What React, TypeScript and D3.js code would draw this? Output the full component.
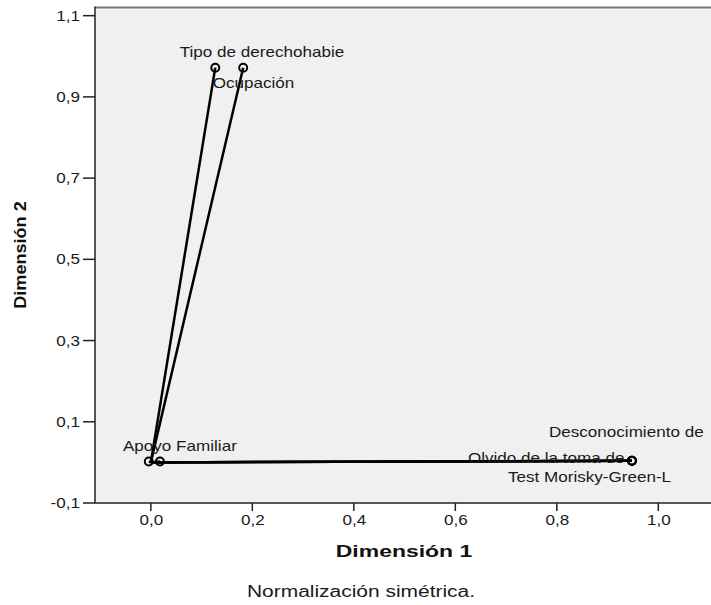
import React from "react";
import * as d3 from "d3";

const categories = [
  "Tipo de derechohabie",
  "Ocupación",
  "Apoyo Familiar",
  "",
  "Desconocimiento de",
  "Olvido de la toma de",
  "Test Morisky-Green-L",
];
const dim1 = [0.127, 0.182, 0.018, -0.004, 0.948, 0.948, 0.948];
const dim2 = [0.972, 0.972, 0.002, 0.002, 0.004, 0.004, 0.004];
const xTicks = [0, 0.2, 0.4, 0.6, 0.8, 1.0];
const yTicks = [-0.1, 0.1, 0.3, 0.5, 0.7, 0.9, 1.1];

// label layout offsets (pixels from the point)
const labelDx = [-35.5, -30.5, -37, 0, -83, -164, -124];
const labelDy = [-10.5, 20.5, -10.5, 0, -24, 2, 21.3];

const W = 711;
const H = 605;
const FONT = "'Liberation Sans', Arial, sans-serif";

function T(props: {
  x: number;
  y: number;
  anchor?: string;
  size: number;
  weight?: string;
  sx?: number;
  rot?: number;
  fill?: string;
  children: React.ReactNode;
}) {
  const { x, y, anchor = "start", size, weight = "normal", sx = 1.22, rot = 0, fill = "#1a1a1a" } = props;
  return (
    <text
      transform={`translate(${x},${y}) rotate(${rot}) scale(${sx},1)`}
      textAnchor={anchor}
      fontSize={size}
      fontWeight={weight}
      fill={fill}
    >
      {props.children}
    </text>
  );
}

export default function App() {
  const x = d3.scaleLinear().domain([-0.11, 1.12]).range([95, 95 + 1.23 * 507.5]);
  const y = d3.scaleLinear().domain([-0.1, 1.12]).range([503, 503 - 1.22 * 406.1]);
  const fmt = (v: number) => d3.format(".1f")(v).replace("−", "-").replace(".", ",");
  const x0 = x.range()[0];
  const x1 = x.range()[1];
  const yb = y.range()[0];
  const yt = y.range()[1];
  const ox = x(0);
  const oy = y(0);

  return (
    <svg
      width={W}
      height={H}
      style={{ position: "absolute", left: 0, top: 0, background: "#fff" }}
      fontFamily={FONT}
    >
      <rect x={x0} y={yt} width={x1 - x0} height={yb - yt} fill="#f0f0f0" />
      <line x1={x0} x2={x1} y1={yt} y2={yt} stroke="#7a7a7a" strokeWidth={2} />
      <line x1={x0} x2={x0} y1={yt - 1} y2={yb} stroke="#222" strokeWidth={1.5} />
      <line x1={x0} x2={x1} y1={yb} y2={yb} stroke="#222" strokeWidth={1.5} />

      {xTicks.map((t) => (
        <g key={"xt" + t}>
          <line x1={x(t)} x2={x(t)} y1={yb} y2={yb + 8} stroke="#222" strokeWidth={1.5} />
          <T x={x(t) + 0.5} y={yb + 22} anchor="middle" size={14}>
            {fmt(t)}
          </T>
        </g>
      ))}
      {yTicks.map((t) => (
        <g key={"yt" + t}>
          <line x1={x0 - 12} x2={x0} y1={y(t)} y2={y(t)} stroke="#222" strokeWidth={1.5} />
          <T x={x0 - 15} y={y(t) + 5} anchor="end" size={14}>
            {fmt(t)}
          </T>
        </g>
      ))}

      {categories.map((c, i) => (
        <line
          key={"l" + i}
          x1={ox}
          y1={oy}
          x2={x(dim1[i])}
          y2={y(dim2[i])}
          stroke="#000"
          strokeWidth={2.5}
        />
      ))}
      {categories.map((c, i) => (
        <circle
          key={"c" + i}
          cx={x(dim1[i])}
          cy={y(dim2[i])}
          r={4}
          fill="none"
          stroke="#000"
          strokeWidth={2}
        />
      ))}
      {categories.map((c, i) =>
        c ? (
          <T key={"t" + i} x={x(dim1[i]) + labelDx[i]} y={y(dim2[i]) + labelDy[i]} size={14}>
            {c}
          </T>
        ) : null
      )}

      <T x={404} y={557} anchor="middle" size={17} weight="bold" sx={1.35} fill="#111">
        Dimensión 1
      </T>
      <T x={26} y={255} anchor="middle" size={16} weight="bold" sx={1.13} rot={-90} fill="#111">
        Dimensión 2
      </T>
      <T x={361} y={597} anchor="middle" size={16} sx={1.31}>
        Normalización simétrica.
      </T>
    </svg>
  );
}
